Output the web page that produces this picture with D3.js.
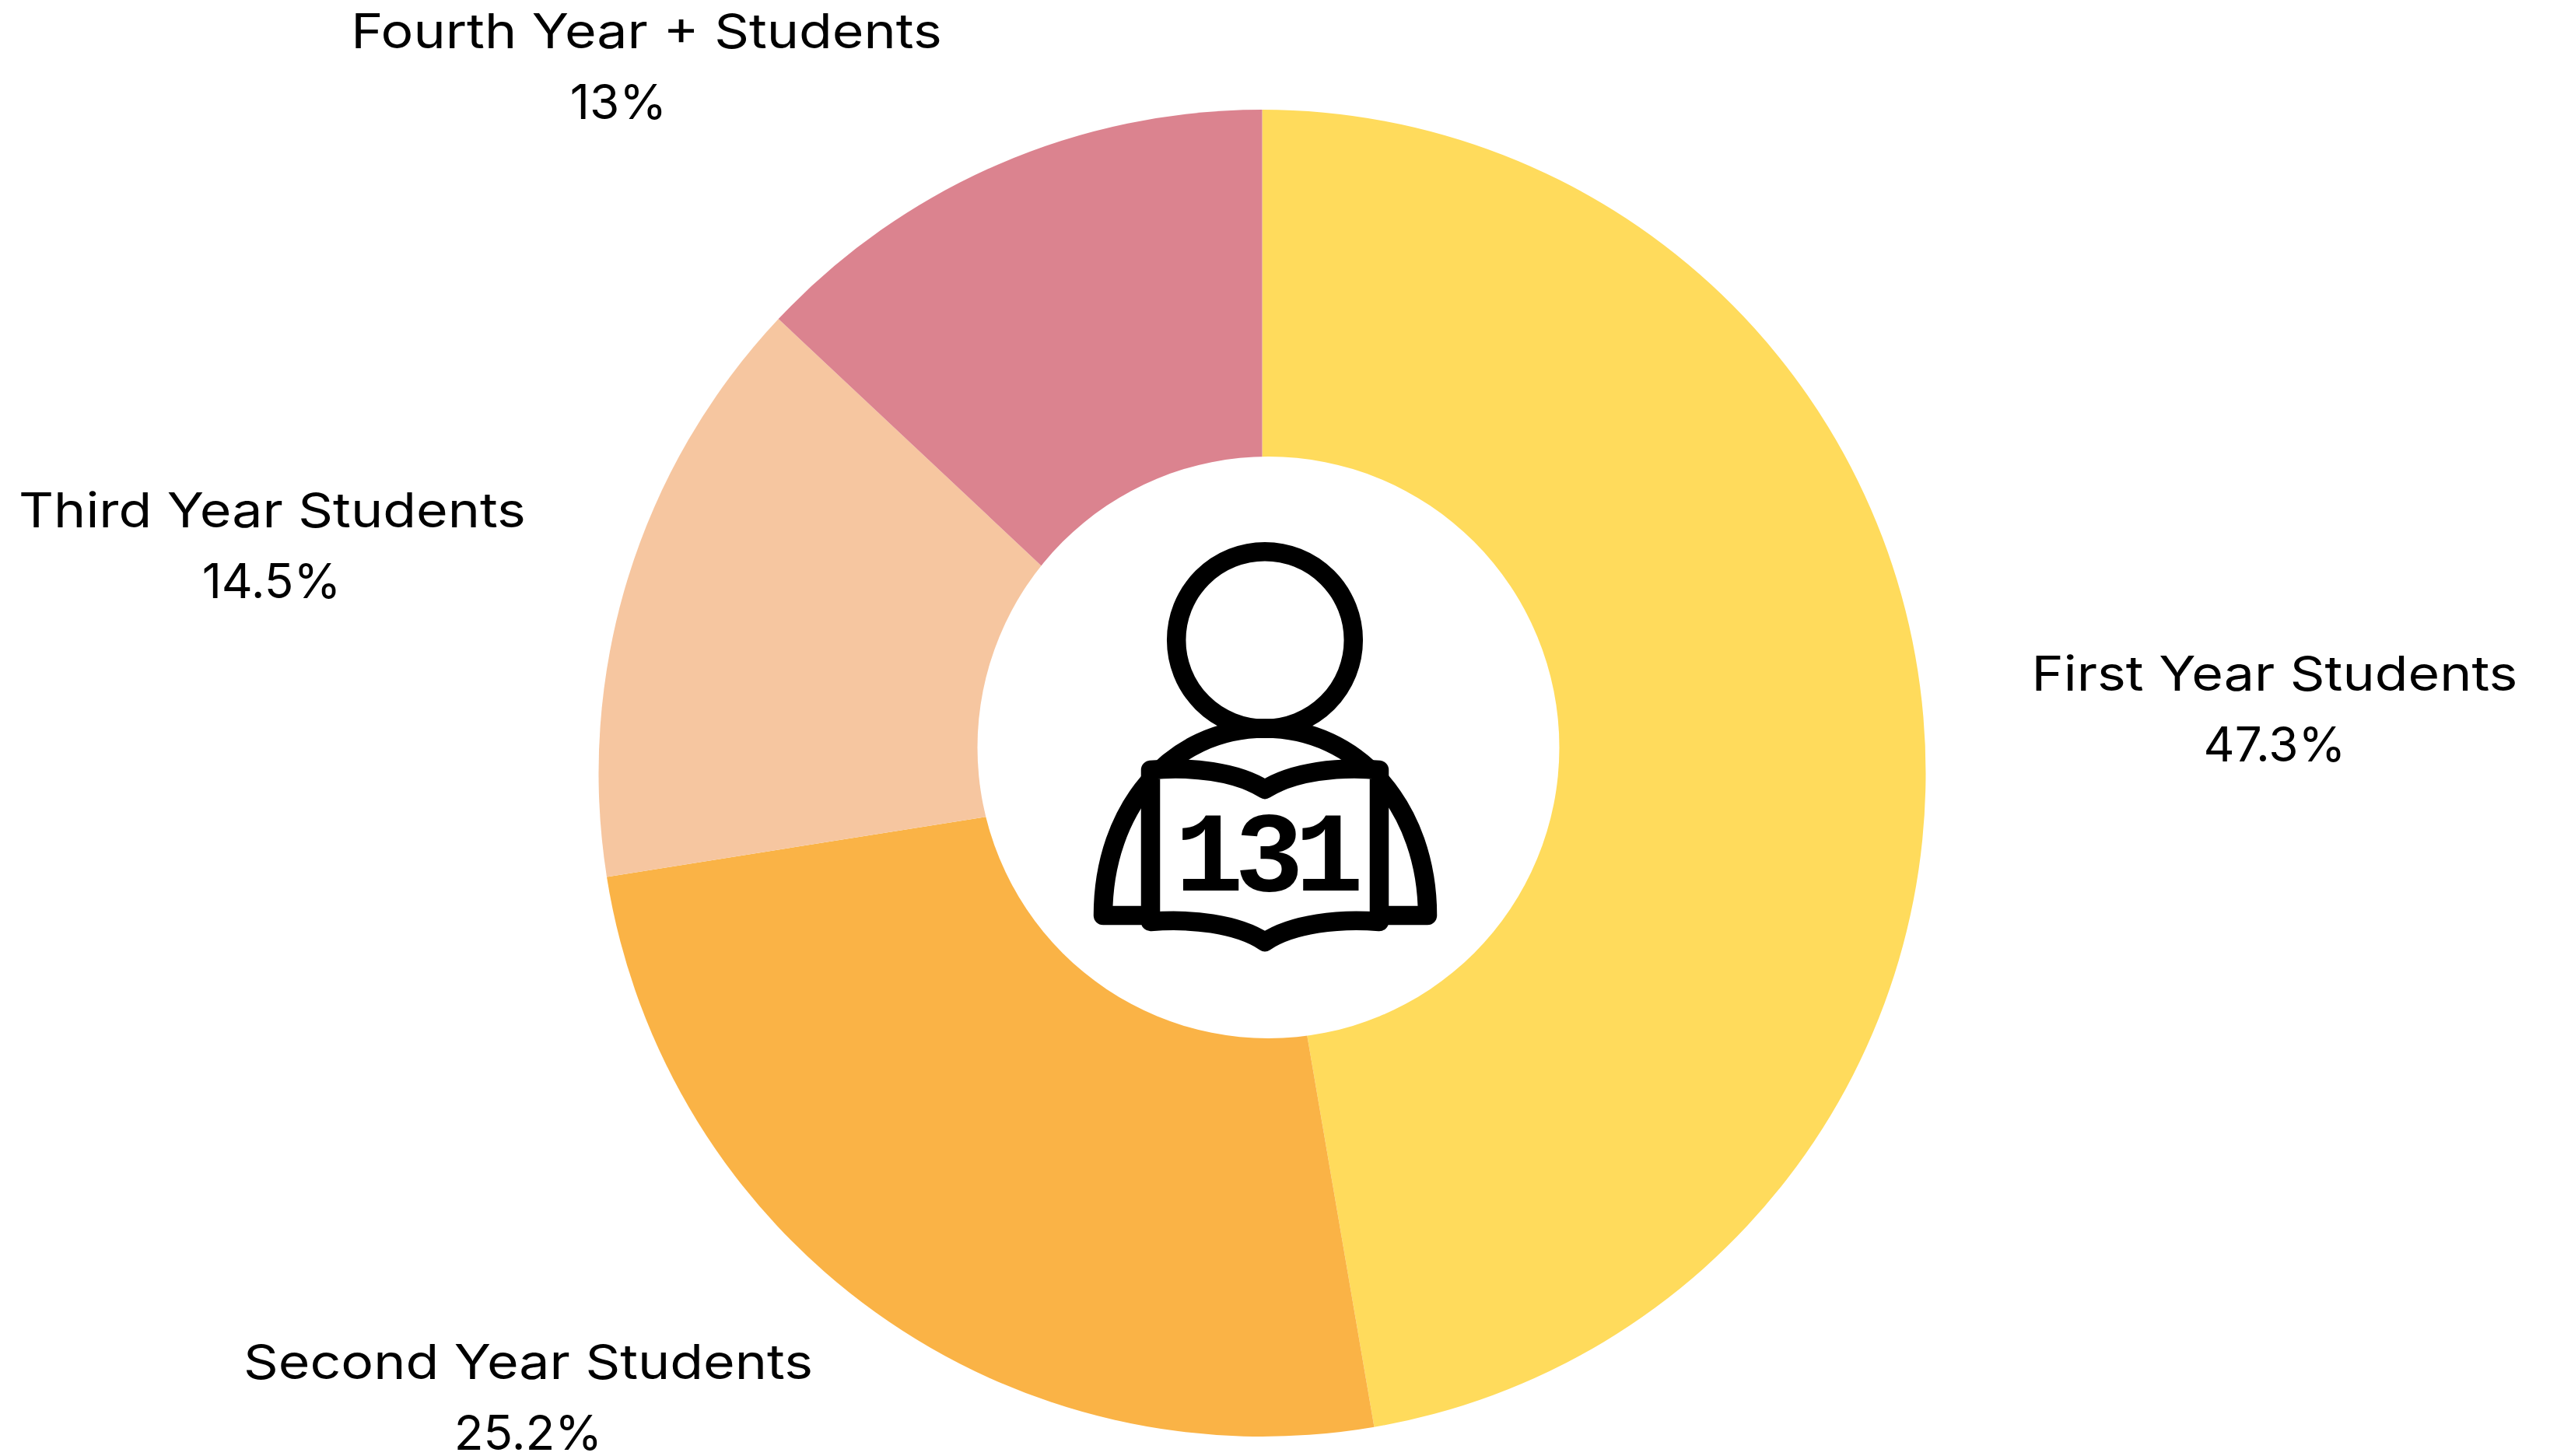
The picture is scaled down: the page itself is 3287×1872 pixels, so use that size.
<!DOCTYPE html>
<html>
<head>
<meta charset="utf-8">
<script src="https://cdn.jsdelivr.net/npm/d3@7/dist/d3.min.js"></script>
<style>
  html, body { margin: 0; padding: 0; background: #fff; }
  svg { display: block; }
  .label { font-family: Inter, "Open Sans", sans-serif; font-size: 62px; font-weight: 400; fill: #000; text-anchor: middle; }
  .total { font-family: "Liberation Mono", monospace; font-size: 147px; font-weight: 700; letter-spacing: -11px; fill: #000; text-anchor: middle; }
</style>
</head>
<body>
<script>
// Class-year breakdown of the student group
const categories = ["First Year Students", "Second Year Students", "Third Year Students", "Fourth Year + Students"];
const shares = [47.3, 25.2, 14.5, 13];
const shareLabels = ["47.3%", "25.2%", "14.5%", "13%"];
const colours = ["#FFDB5C", "#FAB346", "#F6C6A0", "#DB838F"];
const totalStudents = 131;

// Label anchors: centre x of each line and first baseline y, one per category
const nameX = [2924, 679, 350, 831];
const shareX = [2924, 679, 349, 795];
const labelY = [888, 1773, 678, 62];
const lineGap = 90.5;
const nameStretch = 1.126;

const width = 3287, height = 1872;
const centre = { x: 1622.5, y: 994 };
const outerRadius = 853;
const hole = { x: 1630.5, y: 961, r: 374 };

const svg = d3.select("body").append("svg")
  .attr("width", width).attr("height", height)
  .attr("viewBox", [0, 0, width, height]);

const colour = d3.scaleOrdinal().domain(categories).range(colours);
const pie = d3.pie().sort(null).value(d => d.share);
const arc = d3.arc().innerRadius(0).outerRadius(outerRadius);
const rows = categories.map((name, i) => ({ name, share: shares[i] }));

svg.append("g")
  .attr("transform", `translate(${centre.x},${centre.y})`)
  .selectAll("path")
  .data(pie(rows))
  .join("path")
  .attr("d", arc)
  .attr("fill", d => colour(d.data.name));

// The hole sits a little above and right of the pie's centre
svg.append("circle")
  .attr("cx", hole.x).attr("cy", hole.y).attr("r", hole.r)
  .attr("fill", "#fff");

// Reader icon: head, shoulders, open book, then the head count on the page
const icon = svg.append("g")
  .attr("fill", "none")
  .attr("stroke", "#000")
  .attr("stroke-width", 24.5)
  .attr("stroke-linejoin", "round")
  .attr("stroke-linecap", "round");

icon.append("circle").attr("cx", 1626).attr("cy", 823).attr("r", 113.8).attr("fill", "#fff");

icon.append("path")
  .attr("d", "M1479,1177 L1418,1177 C1418,1040 1505,936.5 1626,936.5 C1747,936.5 1835,1040 1835,1177 L1773,1177");

icon.append("path")
  .attr("fill", "#fff")
  .attr("d", "M1479,990 C1530,985 1590,992 1626,1015 C1662,992 1722,985 1773,990 L1773,1185 C1722,1181 1662,1187 1626,1211 C1590,1187 1530,1181 1479,1185 Z");

svg.append("text")
  .attr("class", "total")
  .attr("x", 1626).attr("y", 1145)
  .text(totalStudents);

const labels = svg.append("g").selectAll("g")
  .data(categories)
  .join("g");

// Category names are drawn wider than the face's natural set width
labels.append("text")
  .attr("class", "label")
  .attr("x", (d, i) => nameX[i]).attr("y", (d, i) => labelY[i])
  .text(d => d)
  .attr("lengthAdjust", "spacingAndGlyphs")
  .attr("textLength", function () { return this.getComputedTextLength() * nameStretch; });

labels.append("text")
  .attr("class", "label")
  .attr("x", (d, i) => shareX[i]).attr("y", (d, i) => labelY[i] + lineGap)
  .text((d, i) => shareLabels[i]);
</script>
</body>
</html>
